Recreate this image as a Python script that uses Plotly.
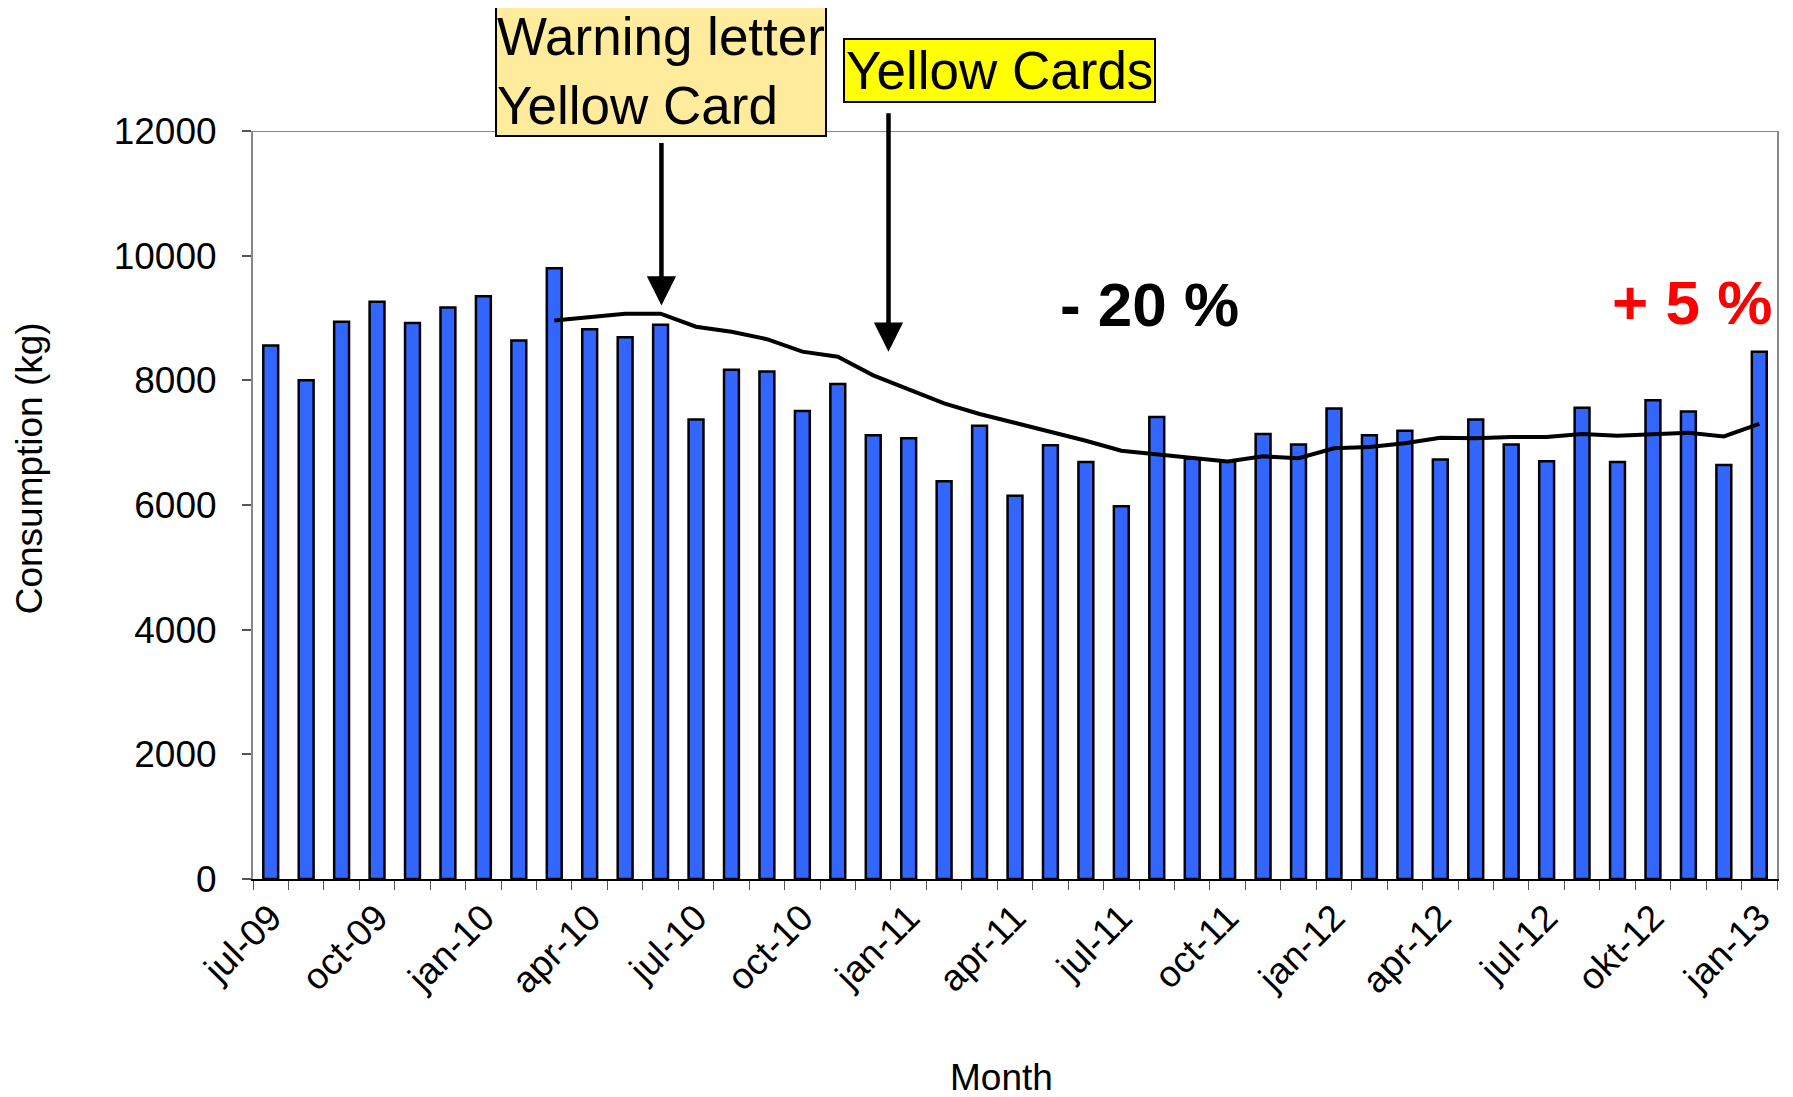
import plotly.graph_objects as go

# monthly consumption, jul-09 .. jan-13
months = [
  'jul-09', 'aug-09', 'sep-09', 'oct-09', 'nov-09', 'dec-09',
  'jan-10', 'feb-10', 'mar-10', 'apr-10', 'may-10', 'jun-10',
  'jul-10', 'aug-10', 'sep-10', 'oct-10', 'nov-10', 'dec-10',
  'jan-11', 'feb-11', 'mar-11', 'apr-11', 'may-11', 'jun-11',
  'jul-11', 'aug-11', 'sep-11', 'oct-11', 'nov-11', 'dec-11',
  'jan-12', 'feb-12', 'mar-12', 'apr-12', 'may-12', 'jun-12',
  'jul-12', 'aug-12', 'sep-12', 'okt-12', 'nov-12', 'dec-12',
  'jan-13'
]
consumption = [
  8560, 8000, 8940, 9260, 8920, 9170,
  9350, 8640, 9800, 8820, 8690, 8890,
  7370, 8170, 8140, 7510, 7940, 7120,
  7070, 6380, 7270, 6150, 6960, 6690,
  5980, 7410, 6740, 6700, 7140, 6970,
  7550, 7120, 7190, 6730, 7370, 6970,
  6700, 7560, 6690, 7680, 7500, 6640,
  8460
]
# 12-month running average, starts at mar-10
trend = [None] * 8 + [
  8960, 9010, 9070, 9070, 8860, 8780, 8660, 8460, 8380, 8080,
  7860, 7630, 7460, 7320, 7180, 7030, 6870, 6810, 6750, 6700,
  6780, 6750, 6910, 6930, 6990, 7080, 7070, 7090, 7090, 7140,
  7110, 7130, 7160, 7100, 7300
]
shown_labels = ['jul-09', 'oct-09', 'jan-10', 'apr-10', 'jul-10', 'oct-10', 'jan-11',
                'apr-11', 'jul-11', 'oct-11', 'jan-12', 'apr-12', 'jul-12', 'okt-12', 'jan-13']
tick_text = [m if m in shown_labels else '' for m in months]

FONT = 'Liberation Sans, Arial, sans-serif'

data = [
  go.Bar(
    x=months, y=consumption, name='Consumption',
    marker={'color': '#3366FF', 'line': {'color': 'black', 'width': 2.5}},
    width=0.42
  ),
  go.Scatter(
    x=months, y=trend, name='Average', mode='lines',
    line={'color': 'black', 'width': 4}
  )
]
fig = go.Figure(data=data)

annotations = [
  # boxes
  dict(xref='paper', yref='paper', x=0.1587, y=1.169, xanchor='left', yanchor='top',
       text='Warning letter<br>Yellow Card', showarrow=False, align='left',
       font=dict(size=53, color='black', family=FONT),
       bgcolor='#FFEB9C', bordercolor='black', borderwidth=2, borderpad=0),
  dict(xref='paper', yref='paper', x=0.387, y=1.125, xanchor='left', yanchor='top',
       text='Yellow Cards', showarrow=False,
       font=dict(size=53, color='black', family=FONT),
       bgcolor='#FFFF00', bordercolor='black', borderwidth=2, borderpad=1),
  # arrows
  dict(xref='paper', yref='y', x=0.268, y=9200, ax=0, ay=-164, text='',
       showarrow=True, arrowhead=2, arrowsize=1.3, arrowwidth=4.5, arrowcolor='black'),
  dict(xref='paper', yref='y', x=0.417, y=8460, ax=0, ay=-240, text='',
       showarrow=True, arrowhead=2, arrowsize=1.3, arrowwidth=4.5, arrowcolor='black'),
  # percentages
  dict(xref='paper', yref='paper', x=0.588, y=0.768, xanchor='center', yanchor='middle',
       text='<b>- 20 %</b>', showarrow=False,
       font=dict(size=62, color='black', family=FONT)),
  dict(xref='paper', yref='paper', x=0.944, y=0.771, xanchor='center', yanchor='middle',
       text='<b>+ 5 %</b>', showarrow=False,
       font=dict(size=62, color='#FF0000', family=FONT), bgcolor='white', borderpad=2),
  # axis titles
  dict(xref='paper', yref='paper', x=-0.147, y=0.549, xanchor='center', yanchor='middle',
       text='Consumption (kg)', textangle=-90, showarrow=False,
       font=dict(size=37, color='black', family=FONT)),
  dict(xref='paper', yref='paper', x=0.491, y=-0.2655, xanchor='center', yanchor='middle',
       text='Month', showarrow=False,
       font=dict(size=37, color='black', family=FONT)),
]

shapes = [
  # top of plot frame
  dict(type='line', xref='paper', yref='y', x0=0, x1=1, y0=12000, y1=12000,
       line=dict(color='#888888', width=2), layer='below'),
  # slide line at the very top
  dict(type='line', xref='paper', yref='paper', x0=-0.17, x1=1.02, y0=1.169, y1=1.169,
       line=dict(color='#444444', width=2)),
]

# page body has an 8px margin, so margins are shifted by that
fig.update_layout(
  width=1793, height=1097,
  margin=dict(l=245, r=24, t=123, b=226, pad=0),
  plot_bgcolor='white', paper_bgcolor='white',
  showlegend=False,
  bargap=0.58,
  font=dict(family=FONT, size=37, color='black'),
  annotations=annotations,
  shapes=shapes
)
fig.update_xaxes(
  type='category', tickmode='array', tickvals=months, ticktext=tick_text,
  tickson='boundaries', ticks='outside', ticklen=9, tickcolor='#555555', tickwidth=1,
  tickangle=-45, tickfont=dict(size=37),
  showline=True, linecolor='black', linewidth=2,
  showgrid=False, range=[-0.5, 42.5], automargin=False
)
fig.update_yaxes(
  range=[0, 12000], dtick=2000, tickmode='linear', tick0=0, tickformat='d',
  ticks='outside', ticklen=9, tickcolor='#555555', tickwidth=2,
  ticklabelstandoff=18, tickfont=dict(size=37),
  showline=True, linecolor='#888888', linewidth=2, mirror=True,
  showgrid=False, zeroline=False, automargin=False
)

fig.write_html('out.html')
